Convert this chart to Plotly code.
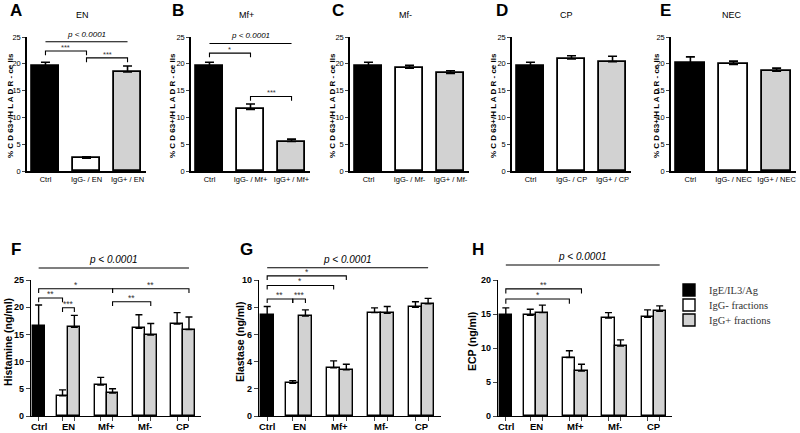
import plotly.graph_objects as go

# ---------------- data ----------------
top_panels = ["EN", "Mf+", "Mf-", "CP", "NEC"]
top_letters = ["A", "B", "C", "D", "E"]
top_ctrl = [19.6, 19.6, 19.6, 19.6, 20.1]
top_ctrl_err = [0.7, 0.7, 0.7, 0.7, 1.2]
top_neg = [2.4, 11.5, 19.2, 20.9, 19.9]
top_neg_err = [0.25, 1.0, 0.5, 0.6, 0.6]
top_pos = [18.5, 5.5, 18.2, 20.4, 18.6]
top_pos_err = [1.1, 0.45, 0.5, 1.0, 0.6]
top_yticks = [0, 5, 10, 15, 20, 25]

groups = ["Ctrl", "EN", "Mf+", "Mf-", "CP"]

hist_ctrl, hist_ctrl_err = 16.6, 3.8
hist_neg = [3.7, 5.7, 16.1, 16.9]
hist_neg_err = [1.1, 1.4, 2.5, 2.1]
hist_pos = [16.3, 4.2, 14.9, 15.9]
hist_pos_err = [2.2, 0.8, 2.1, 2.3]

ela_ctrl, ela_ctrl_err = 7.45, 0.6
ela_neg = [2.4, 3.55, 7.6, 8.0]
ela_neg_err = [0.2, 0.5, 0.35, 0.4]
ela_pos = [7.35, 3.4, 7.55, 8.25]
ela_pos_err = [0.45, 0.4, 0.5, 0.4]

ecp_ctrl, ecp_ctrl_err = 14.8, 1.1
ecp_neg = [14.8, 8.6, 14.4, 14.5]
ecp_neg_err = [0.9, 1.0, 0.8, 1.1]
ecp_pos = [15.2, 6.6, 10.3, 15.4]
ecp_pos_err = [1.1, 1.0, 0.9, 0.8]

legend_names = ["IgE/IL3/Ag", "IgG- fractions", "IgG+ fractions"]

# significance brackets: (from, to, level, drop, label)
top_brackets = {
    0: [("Ctrl", "pos", 24.1, 0, "p"), ("Ctrl", "neg", 22.4, 0.8, "***"), ("neg", "pos", 21.1, 0.8, "***")],
    1: [("Ctrl", "pos", 23.8, 0, "p"), ("Ctrl", "neg", 22.0, 0.8, "*"), ("neg", "pos", 13.9, 0.8, "***")],
}
bottom_brackets = {
    0: [(("Ctrl", ""), ("CP", "pos"), 27.2, 0, "p"),
        (("Ctrl", ""), ("Mf+", "pos"), 23.4, 0.8, "*"),
        (("Mf+", "pos"), ("CP", "pos"), 23.4, 0.8, "**"),
        (("Ctrl", ""), ("EN", "neg"), 21.7, 0.8, "**"),
        (("EN", "neg"), ("EN", "pos"), 19.9, 0.8, "***"),
        (("Mf+", "pos"), ("Mf-", "pos"), 21.0, 0.8, "**")],
    1: [(("Ctrl", ""), ("CP", "pos"), 10.9, 0, "p"),
        (("Ctrl", ""), ("Mf+", "pos"), 10.3, 0.3, "*"),
        (("Ctrl", ""), ("Mf+", "neg"), 9.6, 0.3, "*"),
        (("Ctrl", ""), ("EN", "neg"), 8.6, 0.3, "**"),
        (("EN", "neg"), ("EN", "pos"), 8.6, 0.3, "***")],
    2: [(("Ctrl", ""), ("CP", "pos"), 22.2, 0, "p"),
        (("Ctrl", ""), ("Mf+", "pos"), 18.7, 0.7, "**"),
        (("Ctrl", ""), ("Mf+", "neg"), 17.2, 0.7, "*")],
}

# ---------------- layout helpers ----------------
W, H = 800, 433
def fx(x): return x / W
def fy(y): return 1 - y / H

BLACK, WHITE, GRAY = "#000000", "#ffffff", "#d2d2d2"
NARROW = "Liberation Sans, Arial, sans-serif"
SANS = "Liberation Sans, Arial, sans-serif"
SERIF = "Liberation Serif, DejaVu Serif, serif"

fig = go.Figure()
annotations = []
shapes = []

def paper_text(x, y, text, font, angle=0):
    annotations.append(dict(x=fx(x), y=fy(y), xref="paper", yref="paper", text=text,
                            showarrow=False, xanchor="center", yanchor="middle",
                            textangle=angle, font=font))

def add_bracket(k, x0, x1, level, drop, label, ymax, pfont, sfont):
    xr = "x" if k == 1 else f"x{k}"
    yr = ("y" if k == 1 else f"y{k}") + " domain"
    yl = level / ymax
    if drop > 0:
        yd = (level - drop) / ymax
        path = f"M {x0},{yd} L {x0},{yl} L {x1},{yl} L {x1},{yd}"
    else:
        path = f"M {x0},{yl} L {x1},{yl}"
    shapes.append(dict(type="path", path=path, xref=xr, yref=yr,
                       line=dict(color="black", width=1.1)))
    if label == "p":
        annotations.append(dict(x=(x0 + x1) / 2, y=yl, xref=xr, yref=yr, text="<i>p < 0.0001</i>",
                                showarrow=False, xanchor="center", yanchor="bottom", yshift=1, font=pfont))
    else:
        annotations.append(dict(x=(x0 + x1) / 2, y=yl, xref=xr, yref=yr, text=label,
                                showarrow=False, xanchor="center", yanchor="bottom", yshift=-3, font=sfont))

# ---------------- top row ----------------
top_left = [27, 191, 350, 512, 671]
top_width = [119, 119, 119, 119, 125]
top_title_x = [82, 246, 406, 566, 732]
top_letter_x = [16, 178, 338, 502, 665]
top_ylabel_x = [10, 172, 332, 493, 656]
top_y0, top_y1 = 171, 37
bw_top = 0.68

for i, p in enumerate(top_panels):
    k = i + 1
    xa = "x" if k == 1 else f"x{k}"
    ya = "y" if k == 1 else f"y{k}"
    fig.add_trace(go.Bar(
        x=[0, 1, 2], y=[top_ctrl[i], top_neg[i], top_pos[i]], width=bw_top,
        marker=dict(color=[BLACK, WHITE, GRAY], line=dict(color="black", width=1.8)),
        error_y=dict(type="data", symmetric=False,
                     array=[top_ctrl_err[i], top_neg_err[i], top_pos_err[i]],
                     arrayminus=[0, 0, 0], color="black", thickness=1.6, width=4.5),
        xaxis=xa, yaxis=ya, showlegend=False, hoverinfo="skip"))
    fig.update_layout(**{
        ("xaxis" if k == 1 else f"xaxis{k}"): dict(
            domain=[fx(top_left[i]), fx(top_left[i] + top_width[i])], anchor=ya,
            range=[-0.45, 2.45], tickvals=[0, 1, 2],
            ticktext=["Ctrl", f"IgG- / {p}", f"IgG+ / {p}"],
            ticks="", showline=True, linecolor="black", linewidth=1.5,
            showgrid=False, zeroline=False, tickangle=0, automargin=False,
            tickfont=dict(family=NARROW, size=7.5, color="black")),
        ("yaxis" if k == 1 else f"yaxis{k}"): dict(
            domain=[fy(top_y0), fy(top_y1)], anchor=xa, range=[0, 25],
            tickvals=top_yticks, ticks="outside", ticklen=3, tickwidth=1.2,
            showline=True, linecolor="black", linewidth=1.5,
            showgrid=False, zeroline=False, automargin=False,
            tickfont=dict(family=NARROW, size=7.5, color="black")),
    })
    paper_text(top_title_x[i], 15, p, dict(family=NARROW, size=9, color="black"))
    paper_text(top_letter_x[i], 11, "<b>" + top_letters[i] + "</b>", dict(family=SANS, size=17, color="black"))
    paper_text(top_ylabel_x[i], 106, "<b>% C D 63+/H L A D R - ce lls</b>",
               dict(family=NARROW, size=8, color="black"), angle=-90)
    pos_map = {"Ctrl": 0, "neg": 1, "pos": 2}
    for (a, b, lev, drop, lab) in top_brackets.get(i, []):
        add_bracket(k, pos_map[a], pos_map[b], lev, drop, lab, 25,
                    dict(family=NARROW, size=8, color="black"),
                    dict(family=SANS, size=7.5, color="#333"))

# ---------------- bottom row ----------------
bot_panels = [
    (hist_ctrl, hist_ctrl_err, hist_neg, hist_neg_err, hist_pos, hist_pos_err, 25, 5, "Histamine (ng/ml)", "F"),
    (ela_ctrl, ela_ctrl_err, ela_neg, ela_neg_err, ela_pos, ela_pos_err, 10, 2, "Elastase (ng/ml)", "G"),
    (ecp_ctrl, ecp_ctrl_err, ecp_neg, ecp_neg_err, ecp_pos, ecp_pos_err, 20, 5, "ECP (ng/ml)", "H"),
]
bot_left = [31, 259, 498]
bot_right = [201, 441, 672]
bot_y0, bot_y1 = 416, 280
bot_letter_x = [16, 246, 478]
bot_ylabel_x = [8, 240, 472]
bw = 0.31
first_offset = 0.78
centers = [0] + [first_offset + j for j in range(len(groups) - 1)]
legend_ids = ["legend", "legend2", "legend3"]

def bar_pos(g, kind):
    c = centers[groups.index(g)]
    if kind == "neg":
        return c - bw / 2
    if kind == "pos":
        return c + bw / 2
    return c

for j, (cv, ce, nv, ne, pv, pe, ymax, dt, ytitle, letter) in enumerate(bot_panels):
    k = 6 + j
    xa, ya = f"x{k}", f"y{k}"
    neg_x = [bar_pos(g, "neg") for g in groups[1:]]
    pos_x = [bar_pos(g, "pos") for g in groups[1:]]
    err_common = dict(type="data", symmetric=False, color="black", thickness=1.4, width=3.5)
    fig.add_trace(go.Bar(x=[0], y=[cv], width=bw, name=legend_names[0], legend=legend_ids[0],
                         marker=dict(color=BLACK, line=dict(color="black", width=1.4)),
                         error_y=dict(array=[ce], arrayminus=[0], **err_common),
                         xaxis=xa, yaxis=ya, showlegend=(j == 0), hoverinfo="skip"))
    fig.add_trace(go.Bar(x=neg_x, y=nv, width=bw, name=legend_names[1], legend=legend_ids[1],
                         marker=dict(color=WHITE, line=dict(color="black", width=1.4)),
                         error_y=dict(array=ne, arrayminus=[0] * len(ne), **err_common),
                         xaxis=xa, yaxis=ya, showlegend=(j == 0), hoverinfo="skip"))
    fig.add_trace(go.Bar(x=pos_x, y=pv, width=bw, name=legend_names[2], legend=legend_ids[2],
                         marker=dict(color=GRAY, line=dict(color="black", width=1.4)),
                         error_y=dict(array=pe, arrayminus=[0] * len(pe), **err_common),
                         xaxis=xa, yaxis=ya, showlegend=(j == 0), hoverinfo="skip"))
    fig.update_layout(**{
        f"xaxis{k}": dict(domain=[fx(bot_left[j]), fx(bot_right[j])], anchor=ya,
                          range=[-0.2, 4.25], tickvals=[0] + neg_x + pos_x,
                          ticktext=[""] * (1 + len(neg_x) + len(pos_x)),
                          ticks="outside", ticklen=4, tickwidth=1.2,
                          showline=True, linecolor="black", linewidth=1.4,
                          showgrid=False, zeroline=False, automargin=False),
        f"yaxis{k}": dict(domain=[fy(bot_y0), fy(bot_y1)], anchor=xa, range=[0, ymax],
                          tickvals=list(range(0, ymax + 1, dt)), ticks="outside", ticklen=4, tickwidth=1.2,
                          showline=True, linecolor="black", linewidth=1.4,
                          showgrid=False, zeroline=False, automargin=False,
                          tickfont=dict(family=SANS, size=9, color="black", weight="bold")),
    })
    for g in groups:
        annotations.append(dict(x=centers[groups.index(g)], y=0, xref=xa, yref=ya + " domain",
                                text=f"<b>{g}</b>", showarrow=False, xanchor="center",
                                yanchor="middle", yshift=-10,
                                font=dict(family=SANS, size=9.5, color="black")))
    paper_text(bot_letter_x[j], 249, f"<b>{letter}</b>", dict(family=SANS, size=17, color="black"))
    paper_text(bot_ylabel_x[j], 342, f"<b>{ytitle}</b>", dict(family=SANS, size=10.5, color="black"), angle=-90)
    for (a, b, lev, drop, lab) in bottom_brackets.get(j, []):
        add_bracket(k, bar_pos(*a), bar_pos(*b), lev, drop, lab, ymax,
                    dict(family=SANS, size=10, color="black"),
                    dict(family=SANS, size=8.5, color="#333"))

leg_common = dict(xanchor="left", yanchor="middle", bgcolor="rgba(0,0,0,0)",
                  font=dict(family=SERIF, size=10.5, color="#333"), itemwidth=30)
legend_rows = [290, 305, 320]
fig.update_layout(
    width=W, height=H, margin=dict(l=0, r=0, t=0, b=0, autoexpand=False),
    paper_bgcolor="white", plot_bgcolor="white",
    barmode="overlay", bargap=0,
    annotations=annotations, shapes=shapes, showlegend=True,
    legend=dict(x=fx(669), y=fy(legend_rows[0]), **leg_common),
    legend2=dict(x=fx(669), y=fy(legend_rows[1]), **leg_common),
    legend3=dict(x=fx(669), y=fy(legend_rows[2]), **leg_common),
)

fig.write_html("out.html", config={"displayModeBar": False},
               post_script="document.body.style.margin='0';document.body.style.overflow='hidden';")
